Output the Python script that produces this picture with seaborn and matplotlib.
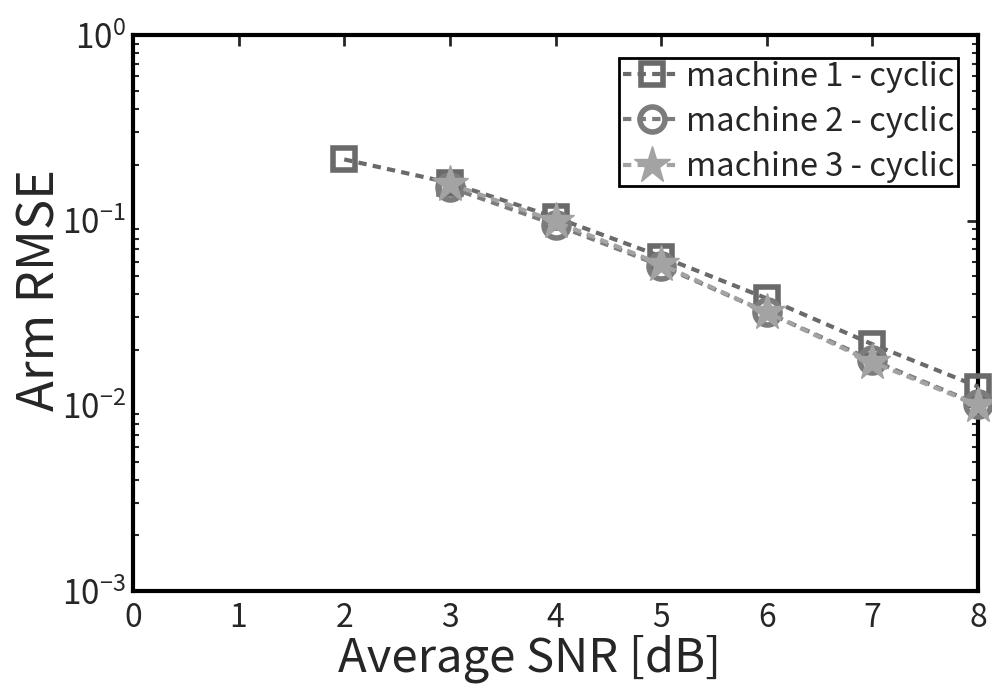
import numpy as np
import pandas as pd
import seaborn as sns
import matplotlib
matplotlib.use("Agg")
import matplotlib.pyplot as plt
from matplotlib.ticker import NullFormatter, FixedLocator, LogLocator

# Average SNR values [dB] and arm RMSE per machine
snr_m1 = [2, 3, 4, 5, 6, 7, 8]
rmse_m1 = [0.214, 0.160, 0.104, 0.064, 0.038, 0.0215, 0.0127]
snr_m2 = [3, 4, 5, 6, 7, 8]
rmse_m2 = [0.151, 0.095, 0.057, 0.032, 0.0176, 0.0102]
snr_m3 = [3, 4, 5, 6, 7, 8]
rmse_m3 = [0.158, 0.099, 0.058, 0.032, 0.0172, 0.0101]
labels = ["machine 1 - cyclic", "machine 2 - cyclic", "machine 3 - cyclic"]

x_ticks = [0, 1, 2, 3, 4, 5, 6, 7, 8]
y_ticks = [1e-3, 1e-2, 1e-1, 1e0]
y_tick_labels = [r"$10^{-3}$", r"$10^{-2}$", r"$10^{-1}$", r"$10^{0}$"]

sns.set_style("white")
plt.rcParams['font.family'] = ['Noto Sans CJK JP', 'DejaVu Sans']
plt.rcParams['mathtext.fontset'] = 'custom'
plt.rcParams['mathtext.rm'] = 'Noto Sans CJK JP'
plt.rcParams['mathtext.it'] = 'Noto Sans CJK JP'
plt.rcParams['mathtext.default'] = 'regular'

frames = []
for lab, xs, ys in zip(labels, [snr_m1, snr_m2, snr_m3], [rmse_m1, rmse_m2, rmse_m3]):
    frames.append(pd.DataFrame({"snr": xs, "rmse": ys, "series": lab}))
df = pd.concat(frames, ignore_index=True)

fig = plt.figure(figsize=(9.92, 6.93), dpi=100)
ax = fig.add_axes([0.134, 0.147, 0.852, 0.802])

styles = {
    labels[0]: dict(color="#6a6a6a", marker="s", mfc="none", ms=16, mew=4),
    labels[1]: dict(color="#7c7c7c", marker="o", mfc="none", ms=18, mew=4),
    labels[2]: dict(color="#a3a3a3", marker="*", mfc="#a3a3a3", ms=28, mew=1),
}
for lab in labels:
    sub = df[df.series == lab]
    st = styles[lab]
    sns.lineplot(data=sub, x="snr", y="rmse", ax=ax, label=lab,
                 color=st["color"], linestyle=(0, (2, 1.5)), linewidth=3,
                 marker=st["marker"], markersize=st["ms"],
                 markerfacecolor=st["mfc"], markeredgecolor=st["color"],
                 markeredgewidth=st["mew"], clip_on=False, zorder=3)

ax.set_yscale("log")
ax.set_xlim(0, 8)
ax.set_ylim(1e-3, 1)
ax.xaxis.set_major_locator(FixedLocator(x_ticks))
ax.set_xticklabels([str(t) for t in x_ticks])
ax.yaxis.set_major_locator(FixedLocator(y_ticks))
ax.set_yticklabels(y_tick_labels)
ax.yaxis.set_minor_locator(LogLocator(base=10, subs=np.arange(2, 10), numticks=10))
ax.yaxis.set_minor_formatter(NullFormatter())

ax.tick_params(axis="x", which="major", direction="in", length=8, width=2,
               top=True, labelsize=23, pad=8)
ax.tick_params(axis="y", which="major", direction="in", length=8, width=2,
               right=True, labelsize=24, pad=5)
ax.tick_params(axis="y", which="minor", direction="in", length=4, width=1.5,
               left=True, right=True)
for sp in ax.spines.values():
    sp.set_linewidth(3)
    sp.set_color("black")
    sp.set_visible(True)

ax.set_xlabel("Average SNR [dB]", fontsize=34, labelpad=0)
ax.set_ylabel("Arm RMSE", fontsize=36.5, labelpad=-3)
ax.xaxis.label.set_x(0.469)
ax.yaxis.label.set_y(0.541)

leg = ax.legend(loc="upper right", bbox_to_anchor=(0.976, 0.960),
                fontsize=23.5, frameon=True, fancybox=False,
                edgecolor="black", framealpha=1, borderpad=0.1,
                handlelength=1.8, handletextpad=0.15, labelspacing=0.4,
                borderaxespad=0)
leg.get_frame().set_linewidth(2)

fig.savefig("out.png", dpi=100)
